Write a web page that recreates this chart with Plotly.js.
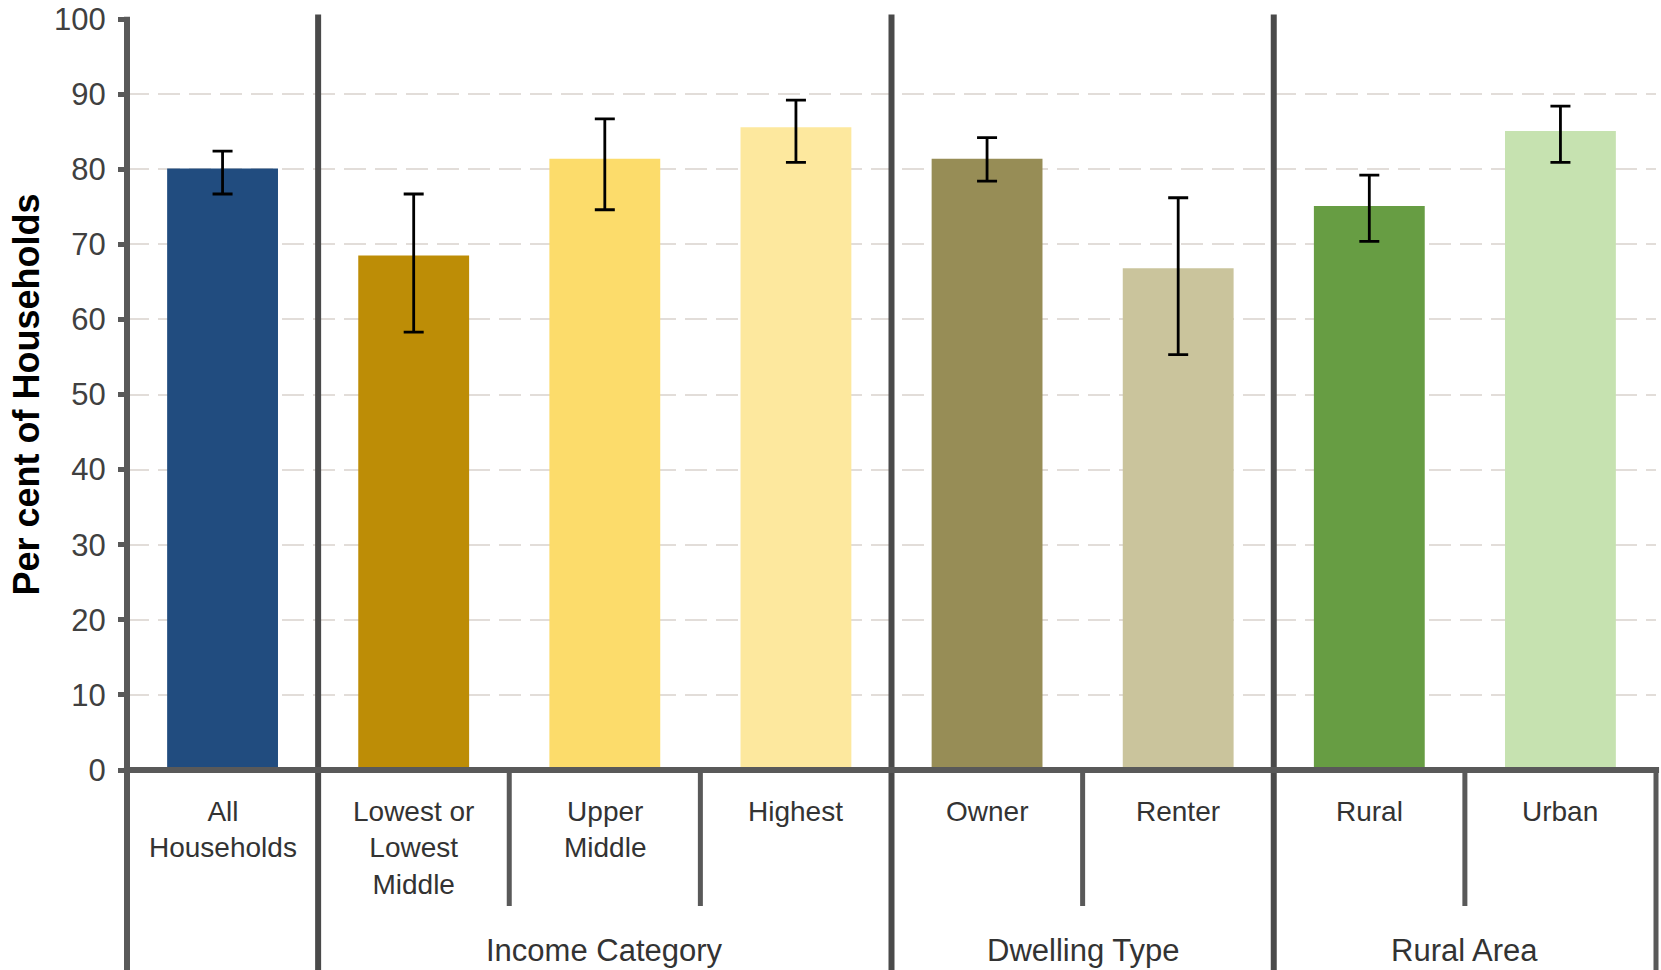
<!DOCTYPE html>
<html>
<head>
<meta charset="utf-8">
<script src="https://cdn.plot.ly/plotly-3.0.1.min.js"></script>
<style>
  html, body { margin: 0; padding: 0; background: #ffffff; }
  #chart { width: 1661px; height: 970px; }
</style>
</head>
<body>
<div id="chart"></div>
<script>
// ---- Data ----
const categories = ['All<br>Households', 'Lowest or<br>Lowest<br>Middle', 'Upper<br>Middle', 'Highest', 'Owner', 'Renter', 'Rural', 'Urban'];
const groups = ['', 'Income Category', 'Income Category', 'Income Category', 'Dwelling Type', 'Dwelling Type', 'Rural Area', 'Rural Area'];
const values = [80.1, 68.5, 81.4, 85.6, 81.4, 66.8, 75.1, 85.1];
const upperBound = [82.4, 76.7, 86.7, 89.2, 84.2, 76.2, 79.2, 88.4];
const lowerBound = [76.7, 58.3, 74.6, 80.9, 78.4, 55.3, 70.4, 80.9];
const yTickVals = [0, 10, 20, 30, 40, 50, 60, 70, 80, 90, 100];
const yTitle = 'Per cent of Households';

// ---- Styles ----
const barColors = ['#214c7f', '#bd8d06', '#fcdc6b', '#fde89e', '#978d56', '#cac49c', '#679d43', '#c6e2b0'];
const FONT = 'Liberation Sans, Arial, Helvetica, sans-serif';
const axisColor = '#595959';
const dividerColor = '#4a4a4a';

const N = categories.length;
const plotH = 751;             // plot area height in px
const px2paper = p => -p / plotH; // px below x-axis -> paper y

const trace = {
  type: 'bar',
  x: categories,
  y: values,
  marker: { color: barColors, line: { width: 0 } },
  error_y: {
    type: 'data',
    symmetric: false,
    array: upperBound.map((u, i) => +(u - values[i]).toFixed(2)),
    arrayminus: lowerBound.map((l, i) => +(values[i] - l).toFixed(2)),
    color: '#000000',
    thickness: 2.8,
    width: 10
  },
  hoverinfo: 'x+y'
};

// ---- Dividers and labels for the two-level category axis ----
const shapes = [];
const annotations = [];

const groupStarts = [];
groups.forEach((g, i) => { if (i === 0 || g !== groups[i - 1]) groupStarts.push(i); });

groupStarts.forEach(k => {
  shapes.push({
    type: 'line', xref: 'paper', yref: 'paper',
    x0: k / N, x1: k / N, y0: px2paper(200) - 0.01, y1: k === 0 ? 1.003 : 1.006,
    line: { color: k === 0 ? axisColor : dividerColor, width: 6 }
  });
});
shapes.push({
  type: 'line', xref: 'paper', yref: 'paper',
  x0: 1, x1: 1, y0: px2paper(200) - 0.01, y1: 0,
  line: { color: axisColor, width: 5 }
});
for (let k = 1; k < N; k++) {
  if (!groupStarts.includes(k)) {
    shapes.push({
      type: 'line', xref: 'paper', yref: 'paper',
      x0: k / N, x1: k / N, y0: px2paper(136), y1: 0,
      line: { color: axisColor, width: 5 }
    });
  }
}
shapes.push({
  type: 'line', xref: 'paper', yref: 'paper',
  x0: -0.002, x1: 1.002, y0: 0, y1: 0,
  line: { color: axisColor, width: 6 }
});

categories.forEach((c, i) => {
  annotations.push({
    x: i, xref: 'x', y: 0, yref: 'paper',
    text: c, showarrow: false, yanchor: 'top', xanchor: 'center',
    yshift: -24, align: 'center',
    font: { family: FONT, size: 28, color: '#333333' }
  });
});
const uniqueGroups = [...new Set(groups)].filter(g => g !== '');
uniqueGroups.forEach(g => {
  const idx = groups.map((gg, i) => gg === g ? i : -1).filter(i => i >= 0);
  const center = idx.reduce((a, b) => a + b, 0) / idx.length;
  annotations.push({
    x: center, xref: 'x', y: 0, yref: 'paper',
    text: g, showarrow: false, yanchor: 'middle', xanchor: 'center',
    yshift: -180,
    font: { family: FONT, size: 31, color: '#333333' }
  });
});

const layout = {
  width: 1661,
  height: 970,
  margin: { l: 127, r: 5, t: 19, b: 200, pad: 0 },
  paper_bgcolor: '#ffffff',
  plot_bgcolor: '#ffffff',
  showlegend: false,
  bargap: 0.42,
  font: { family: FONT, color: '#404040' },
  xaxis: {
    type: 'category',
    range: [-0.5, N - 0.5],
    showticklabels: false,
    showgrid: false,
    zeroline: false,
    showline: false,
    ticks: '',
    fixedrange: true
  },
  yaxis: {
    range: [0, 100],
    tickvals: yTickVals,
    ticktext: yTickVals.map(String),
    showgrid: true,
    gridcolor: '#e2ddd9',
    gridwidth: 2,
    griddash: '22px,9px',
    zeroline: false,
    showline: false,
    ticks: 'outside',
    ticklen: 8,
    tickwidth: 5,
    tickcolor: axisColor,
    ticklabelstandoff: 6,
    tickfont: { family: FONT, size: 31, color: '#404040' },
    title: {
      text: yTitle,
      standoff: 3,
      font: { family: FONT, size: 36, color: '#000000', weight: 'bold' }
    },
    automargin: false,
    fixedrange: true
  },
  shapes: shapes,
  annotations: annotations
};

Plotly.newPlot('chart', [trace], layout, { displayModeBar: false, staticPlot: true });
</script>
</body>
</html>
